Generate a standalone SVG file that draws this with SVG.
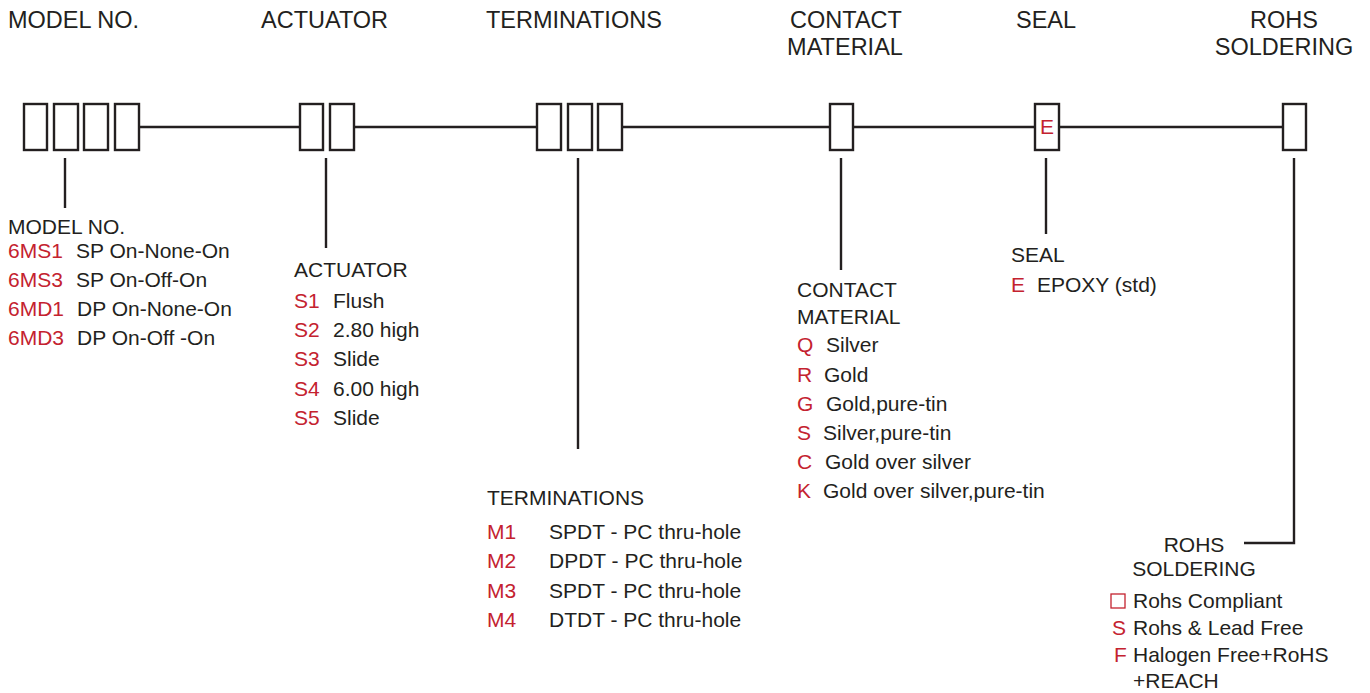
<svg xmlns="http://www.w3.org/2000/svg" width="1370" height="693" viewBox="0 0 1370 693">
<style>
text{font-family:"Liberation Sans",Arial,sans-serif;fill:#231f20}
.h{font-size:23.5px}
.t{font-size:21px}
.r{fill:#c4222f}
.box{fill:#fff;stroke:#231f20;stroke-width:2.4}
.ln{stroke:#231f20;stroke-width:2.4;fill:none}
</style>
<rect width="1370" height="693" fill="#fff"/>
<g id="connectors">
<line class="ln" x1="139" y1="127" x2="300" y2="127"/>
<line class="ln" x1="354" y1="127" x2="537" y2="127"/>
<line class="ln" x1="622" y1="127" x2="830" y2="127"/>
<line class="ln" x1="853" y1="127" x2="1035" y2="127"/>
<line class="ln" x1="1059" y1="127" x2="1283" y2="127"/>
<line class="ln" x1="65" y1="158" x2="65" y2="208"/>
<line class="ln" x1="326" y1="158" x2="326" y2="248"/>
<line class="ln" x1="578" y1="158" x2="578" y2="449"/>
<line class="ln" x1="841" y1="158" x2="841" y2="270"/>
<line class="ln" x1="1046" y1="158" x2="1046" y2="234"/>
<polyline class="ln" points="1294,158 1294,543 1244,543"/>
</g>
<g id="headers">
<text class="h" x="8" y="28">MODEL NO.</text>
<text class="h" x="261" y="28">ACTUATOR</text>
<text class="h" x="486" y="28">TERMINATIONS</text>
<text class="h" x="846" y="28" text-anchor="middle">CONTACT</text>
<text class="h" x="845" y="55" text-anchor="middle">MATERIAL</text>
<text class="h" x="1046" y="28" text-anchor="middle">SEAL</text>
<text class="h" x="1284" y="28" text-anchor="middle">ROHS</text>
<text class="h" x="1284" y="55" text-anchor="middle">SOLDERING</text>
</g>
<g id="model">
<rect class="box" x="24" y="104" width="23" height="46"/>
<rect class="box" x="54" y="104" width="24" height="46"/>
<rect class="box" x="84" y="104" width="24" height="46"/>
<rect class="box" x="115" y="104" width="24" height="46"/>
<text class="t" x="8" y="234">MODEL NO.</text>
<text class="t r" x="8" y="258">6MS1</text><text class="t" x="76" y="258">SP On-None-On</text>
<text class="t r" x="8" y="287">6MS3</text><text class="t" x="76" y="287">SP On-Off-On</text>
<text class="t r" x="8" y="316">6MD1</text><text class="t" x="77" y="316">DP On-None-On</text>
<text class="t r" x="8" y="345">6MD3</text><text class="t" x="77" y="345">DP On-Off -On</text>
</g>
<g id="actuator">
<rect class="box" x="300" y="104" width="23" height="46"/>
<rect class="box" x="330" y="104" width="24" height="46"/>
<text class="t" x="294" y="277">ACTUATOR</text>
<text class="t r" x="294" y="308">S1</text><text class="t" x="333" y="308">Flush</text>
<text class="t r" x="294" y="337">S2</text><text class="t" x="333" y="337">2.80 high</text>
<text class="t r" x="294" y="366">S3</text><text class="t" x="333" y="366">Slide</text>
<text class="t r" x="294" y="396">S4</text><text class="t" x="333" y="396">6.00 high</text>
<text class="t r" x="294" y="425">S5</text><text class="t" x="333" y="425">Slide</text>
</g>
<g id="terminations">
<rect class="box" x="537" y="104" width="24" height="46"/>
<rect class="box" x="568" y="104" width="24" height="46"/>
<rect class="box" x="598" y="104" width="24" height="46"/>
<text class="t" x="487" y="505">TERMINATIONS</text>
<text class="t r" x="487" y="539">M1</text><text class="t" x="549" y="539">SPDT - PC thru-hole</text>
<text class="t r" x="487" y="568">M2</text><text class="t" x="549" y="568">DPDT - PC thru-hole</text>
<text class="t r" x="487" y="598">M3</text><text class="t" x="549" y="598">SPDT - PC thru-hole</text>
<text class="t r" x="487" y="627">M4</text><text class="t" x="549" y="627">DTDT - PC thru-hole</text>
</g>
<g id="contact">
<rect class="box" x="830" y="104" width="23" height="46"/>
<text class="t" x="797" y="297">CONTACT</text>
<text class="t" x="797" y="324">MATERIAL</text>
<text class="t r" x="797" y="352">Q</text><text class="t" x="826" y="352">Silver</text>
<text class="t r" x="797" y="382">R</text><text class="t" x="824" y="382">Gold</text>
<text class="t r" x="797" y="411">G</text><text class="t" x="826" y="411">Gold,pure-tin</text>
<text class="t r" x="797" y="440">S</text><text class="t" x="823" y="440">Silver,pure-tin</text>
<text class="t r" x="797" y="469">C</text><text class="t" x="825" y="469">Gold over silver</text>
<text class="t r" x="797" y="498">K</text><text class="t" x="823" y="498">Gold over silver,pure-tin</text>
</g>
<g id="seal">
<rect class="box" x="1035" y="104" width="24" height="46"/>
<text class="t r" x="1047" y="134" text-anchor="middle">E</text>
<text class="t" x="1011" y="262">SEAL</text>
<text class="t r" x="1011" y="292">E</text><text class="t" x="1037" y="292">EPOXY (std)</text>
</g>
<g id="rohs">
<rect class="box" x="1283" y="104" width="23" height="46"/>
<text class="t" x="1194" y="552" text-anchor="middle">ROHS</text>
<text class="t" x="1194" y="576" text-anchor="middle">SOLDERING</text>
<rect x="1111" y="594" width="14" height="14" fill="none" stroke="#c4222f" stroke-width="1.3"/>
<text class="t" x="1133" y="608">Rohs Compliant</text>
<text class="t r" x="1112" y="635">S</text><text class="t" x="1133" y="635">Rohs &amp; Lead Free</text>
<text class="t r" x="1114" y="662">F</text><text class="t" x="1133" y="662">Halogen Free+RoHS</text>
<text class="t" x="1133" y="688">+REACH</text>
</g>
</svg>
